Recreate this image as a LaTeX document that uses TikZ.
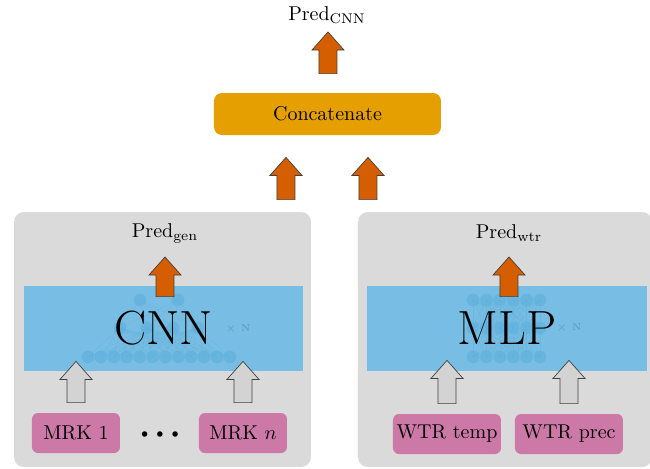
\documentclass[tikz,border=0pt]{standalone}
\usetikzlibrary{calc}
\definecolor{panelgrey}{HTML}{DADADA}
\definecolor{netblue}{HTML}{78BDE3}
\definecolor{unitblue}{HTML}{5AAFDD}
\definecolor{concatorange}{HTML}{E69F00}
\definecolor{predorange}{HTML}{D55E00}
\definecolor{inputpink}{HTML}{CC79A7}
\definecolor{ingrey}{HTML}{D3D3D3}
\tikzset{
  panel/.style={fill=panelgrey, rounded corners=5pt, inner sep=0pt},
  netbox/.style={fill=netblue, inner sep=0pt, minimum height=42.5pt},
  netlabel/.style={font=\fontsize{24}{28}\selectfont, inner sep=0pt},
  inputbox/.style={fill=inputpink, rounded corners=3pt, minimum width=44pt, minimum height=20pt, inner sep=0pt},
  concatbox/.style={fill=concatorange, rounded corners=4pt, minimum width=113.5pt, minimum height=21pt},
  unit/.style={fill=unitblue, fill opacity=0.55},
  link/.style={draw=unitblue, opacity=0.35, line width=0.2pt},
  repeatlabel/.style={font=\tiny, text=unitblue!70!black, text opacity=0.5},
  blockarrow/.style={draw=black!75, line width=0.35pt, to path={
    let \p1=(\tikztostart), \p2=(\tikztotarget) in
    (\x1-4.5pt,\y1) -- (\x1+4.5pt,\y1) -- (\x1+4.5pt,\y2-9pt) -- (\x1+8pt,\y2-9pt)
    -- (\x1,\y2) -- (\x1-8pt,\y2-9pt) -- (\x1-4.5pt,\y2-9pt) -- cycle}},
  predarrow/.style={blockarrow, fill=predorange},
  inarrow/.style={blockarrow, fill=ingrey}
}
\begin{document}
\begin{tikzpicture}[x=0.5pt, y=0.5pt]
  \useasboundingbox (0,0) rectangle (650,468);

  \node[panel, minimum width=148.5pt, minimum height=127.5pt] (genpanel) at (162.5,128.5) {};
  \node[panel, minimum width=147pt, minimum height=127.5pt] (wtrpanel) at (505,128.5) {};
  \node[netbox, minimum width=139.5pt] (cnn) at (163.5,139.5) {};
  \node[netbox, minimum width=140pt] (mlp) at (507,139.5) {};

  \foreach \m in {120,147,173,198} {
    \foreach \i in {0,...,11} \draw[link] (\m,140) -- (88+12.9*\i,111);
    \foreach \t in {140,178} \draw[link] (\m,140) -- (\t,168);
  }
  \foreach \i in {0,...,11} \fill[unit] (88+12.9*\i,111) circle[radius=3.2pt];
  \foreach \m in {120,147,173,198} \fill[unit] (\m,140) circle[radius=3.2pt];
  \foreach \t in {140,178} \fill[unit] (\t,168) circle[radius=3.2pt];
  \node[repeatlabel] (cnnrepeat) at (238,139) {$\times$ N};

  \foreach \i in {0,...,5} \foreach \j in {0,...,5} {
    \draw[link] (473+13.4*\i,111) -- (473+13.4*\j,140);
    \draw[link] (473+13.4*\i,140) -- (473+13.4*\j,168);
  }
  \foreach \i in {0,...,5} \foreach \r in {111,140,168}
    \fill[unit] (473+13.4*\i,\r) circle[radius=3.2pt];
  \node[repeatlabel] (mlprepeat) at (569,140) {$\times$ N};

  \node[netlabel] (cnnlabel) at (cnn) {CNN};
  \node[netlabel] (mlplabel) at (mlp) {MLP};

  \node (predgen) at (165,235) {Pred$_{\mathrm{gen}}$};
  \node (predwtr) at (509,235) {Pred$_{\mathrm{wtr}}$};
  \node[inputbox] (mrk1) at (76,35) {MRK 1};
  \node[inputbox] (mrkn) at (243,35) {MRK $n$};
  \node[font=\fontsize{6}{7}\selectfont, inner sep=0pt] (dots) at (160,33) {$\bullet\mkern5mu\bullet\mkern5mu\bullet$};
  \node[inputbox, minimum width=54pt] (wtrtemp) at (447,34) {WTR temp};
  \node[inputbox, minimum width=54pt] (wtrprec) at (569,34) {WTR prec};
  \node[concatbox] (concat) at (327.5,354) {Concatenate};
  \node (predcnn) at (327,453) {Pred$_{\mathrm{CNN}}$};

  \coordinate (mrk1tail) at ($(mrk1.north)+(0,10)$);
  \coordinate (mrk1head) at ($(mrk1.north |- cnn.south)+(0,10)$);
  \coordinate (mrkntail) at ($(mrkn.north)+(0,10)$);
  \coordinate (mrknhead) at ($(mrkn.north |- cnn.south)+(0,10)$);
  \coordinate (temptail) at ($(wtrtemp.north)+(0,10)$);
  \coordinate (temphead) at ($(wtrtemp.north |- mlp.south)+(0,11)$);
  \coordinate (prectail) at ($(wtrprec.north)+(0,10)$);
  \coordinate (prechead) at ($(wtrprec.north |- mlp.south)+(0,11)$);
  \coordinate (gentail) at ($(predgen |- cnn.north)+(0,-11)$);
  \coordinate (genhead) at ($(predgen)+(0,-24)$);
  \coordinate (wtrtail) at ($(predwtr |- mlp.north)+(0,-11)$);
  \coordinate (wtrhead) at ($(predwtr)+(0,-24)$);
  \coordinate (leftin) at ($(genpanel.north -| concat.south)+(-41.5,12)$);
  \coordinate (lefthead) at ($(concat.south)+(-41.5,-22)$);
  \coordinate (rightin) at ($(wtrpanel.north -| concat.south)+(40.5,12)$);
  \coordinate (righthead) at ($(concat.south)+(40.5,-22)$);
  \coordinate (cnntail) at ($(concat.north)+(0.5,19)$);
  \coordinate (cnnhead) at ($(predcnn)+(1,-17)$);

  \draw[inarrow] (mrk1tail) to (mrk1head);
  \draw[inarrow] (mrkntail) to (mrknhead);
  \draw[inarrow] (temptail) to (temphead);
  \draw[inarrow] (prectail) to (prechead);
  \draw[predarrow] (gentail) to (genhead);
  \draw[predarrow] (wtrtail) to (wtrhead);
  \draw[predarrow] (leftin) to (lefthead);
  \draw[predarrow] (rightin) to (righthead);
  \draw[predarrow] (cnntail) to (cnnhead);
\end{tikzpicture}
\end{document}
